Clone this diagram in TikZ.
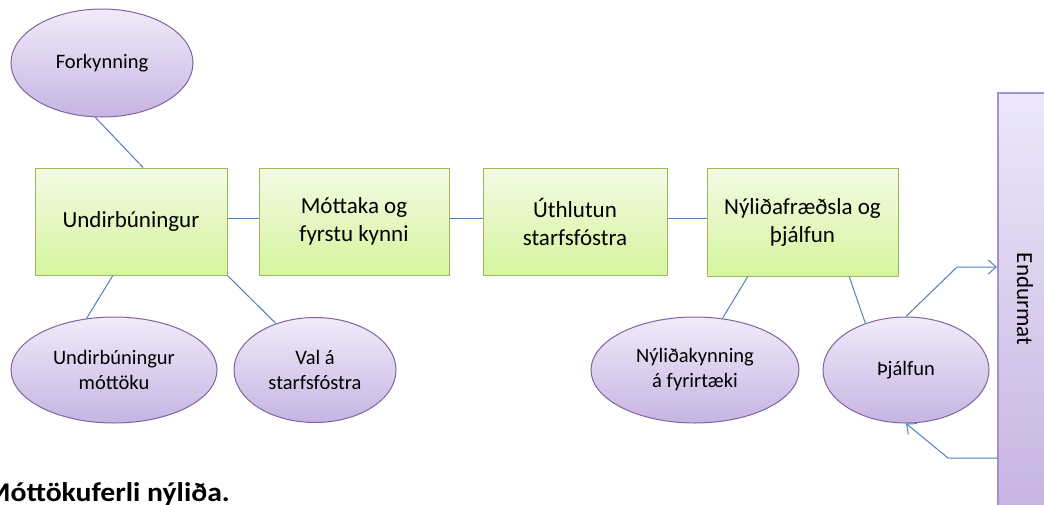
\documentclass[tikz,border=0pt]{standalone}
\usepackage{fontspec}
\setmainfont{Carlito}
\usetikzlibrary{shapes.geometric,arrows.meta,calc}
\definecolor{boxtop}{RGB}{242,250,228}
\definecolor{boxbot}{RGB}{214,245,158}
\definecolor{boxline}{RGB}{155,187,89}
\definecolor{elltop}{RGB}{240,235,249}
\definecolor{ellbot}{RGB}{199,180,226}
\definecolor{ellline}{RGB}{128,100,162}
\definecolor{endtop}{RGB}{236,231,248}
\definecolor{endbot}{RGB}{198,178,226}
\definecolor{endline}{RGB}{166,145,205}
\definecolor{conn}{RGB}{79,129,189}
\begin{document}
\begin{tikzpicture}[x=1pt,y=-1pt,
  stepbox/.style={rectangle, draw=boxline, line width=1pt, top color=boxtop, bottom color=boxbot,
    minimum height=107pt, inner sep=0pt, align=center, font=\fontsize{23}{28}\selectfont},
  oval/.style={ellipse, draw=ellline, line width=1pt, top color=elltop, bottom color=ellbot,
    inner sep=0pt, align=center, font=\fontsize{20.5}{25}\selectfont},
  conline/.style={draw=conn, line width=1pt},
  arr/.style={conline, -{Straight Barb[length=8pt,width=14pt]}}]
\clip (0,0) rectangle (1044,504);
\fill[white] (0,0) rectangle (1044,504);
% process boxes
\node[stepbox, minimum width=192pt] (undir) at (131,221.5) {Undirbúningur};
\node[stepbox, minimum width=190pt] (mott) at (354,221.5) {Móttaka og\\fyrstu kynni};
\node[stepbox, minimum width=184pt] (uthl) at (575,221.5) {Úthlutun\\starfsfóstra};
\node[stepbox, minimum width=191pt, minimum height=108pt] (nyl) at (802.5,222) {Nýliðafræðsla og\\þjálfun};
% ellipses
\node[oval, minimum width=182pt, minimum height=108pt] (fork) at (102,63) {Forkynning};
\node[oval, minimum width=206pt, minimum height=106pt] (undm) at (114,370) {Undirbúningur\\móttöku};
\node[oval, minimum width=162pt, minimum height=105pt] (val) at (315,370) {Val á\\starfsfóstra};
\node[oval, minimum width=208pt, minimum height=106pt] (nylk) at (695,370) {Nýliðakynning\\á fyrirtæki};
\node[oval, minimum width=166pt, minimum height=106pt] (thj) at (906,370) {Þjálfun};
% Endurmat bar
\node[rectangle, draw=endline, line width=2pt, top color=endtop, bottom color=endbot,
  minimum width=64pt, minimum height=430pt, inner sep=0pt, anchor=north west] (endr) at (997,92) {};
\node[rotate=-90, font=\fontsize{23}{28}\selectfont, inner sep=0pt] (endlab) at (1025,299) {Endurmat};
% title
\node[anchor=base east, font=\bfseries\fontsize{27}{30}\selectfont, inner sep=0pt] (title) at (230,501) {\scalebox{1.1}[1]{Móttökuferli nýliða.}};
% connectors
\draw[conline] (fork.-97) -- ($(undir.north west)!0.5625!(undir.north east)$);
\draw[conline] ($(undir.south west)!0.406!(undir.south east)$) -- (undm.118);
\draw[conline] (undir.south east) -- (val.130);
\draw[conline] ($(undir.east)+(0,-3.5)$) -- ($(mott.west)+(0,-3.5)$);
\draw[conline] ($(mott.east)+(0,-3.5)$) -- ($(uthl.west)+(0,-3.5)$);
\draw[conline] ($(uthl.east)+(0,-3.5)$) -- ($(nyl.west)+(0,-4)$);
\draw[conline] ($(nyl.south west)!0.215!(nyl.south east)$) -- (nylk.62);
\draw[conline] ($(nyl.south west)!0.743!(nyl.south east)$) -- (thj.131);
% arrows to/from Endurmat
\coordinate (a1) at (957,267);
\coordinate (a2) at (948,458);
\draw[arr] (thj.north) -- (a1) -- (a1 -| endr.west);
\draw[arr] (a2 -| endr.west) -- (a2) -- (thj.south);
\end{tikzpicture}
\end{document}
